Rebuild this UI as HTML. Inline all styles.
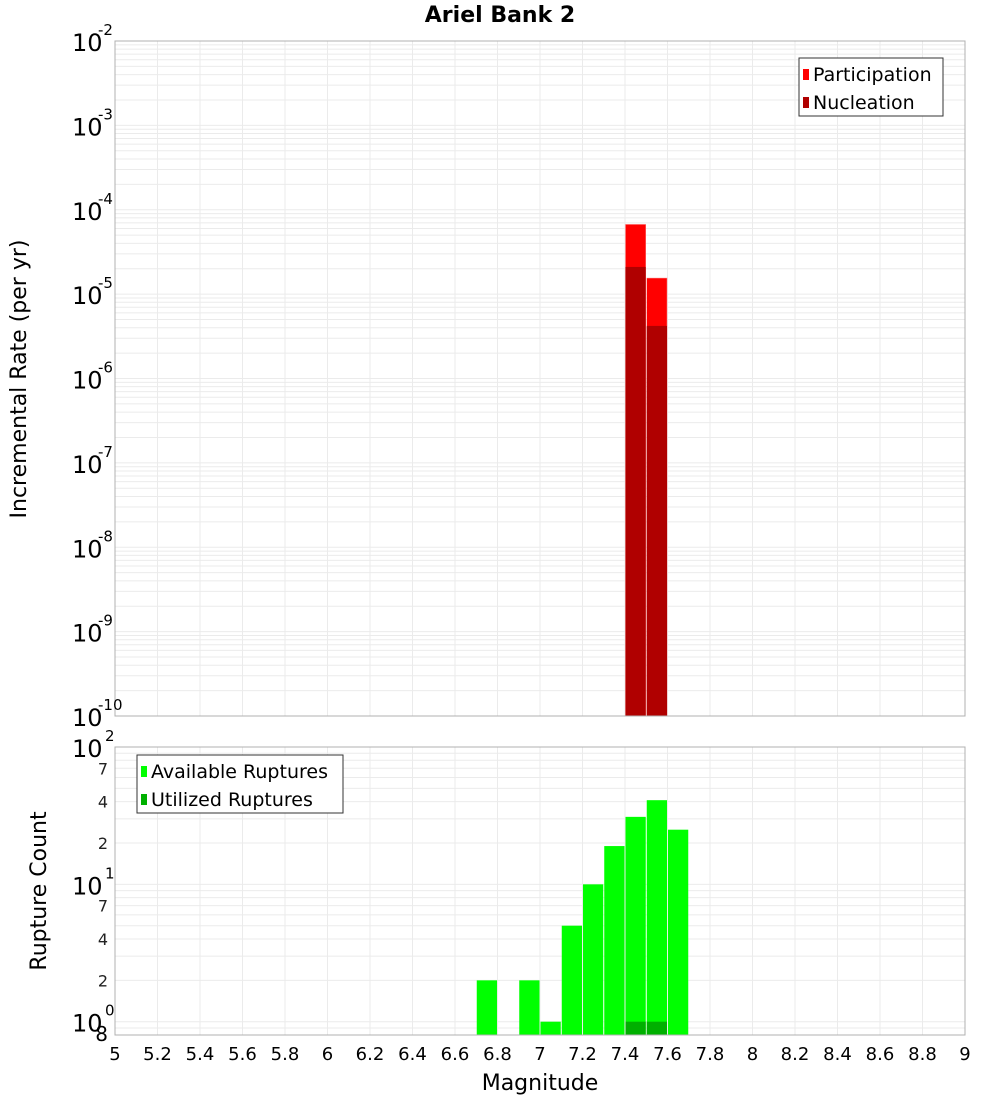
<!DOCTYPE html>
<html><head><meta charset="utf-8"><style>
body{margin:0;background:#fff;}
svg text{font-family:"DejaVu Sans","Liberation Sans",sans-serif;}
</style></head><body>
<svg id="chart" width="1000" height="1100" xmlns="http://www.w3.org/2000/svg"></svg>
<script>
const mags = [7.45, 7.55];
const participation = [6.7e-5, 1.55e-5];
const nucleation = [2.1e-5, 4.2e-6];
const countMags = [6.75, 6.95, 7.05, 7.15, 7.25, 7.35, 7.45, 7.55, 7.65];
const available = [2, 2, 1, 5, 10, 19, 31, 41, 25];
const utilMags = [7.45, 7.55];
const utilized = [1, 1];
const xTicks = [5,5.2,5.4,5.6,5.8,6,6.2,6.4,6.6,6.8,7,7.2,7.4,7.6,7.8,8,8.2,8.4,8.6,8.8,9];
const topExps = [-2,-3,-4,-5,-6,-7,-8,-9,-10];
const botMinorLabels = [2,4,7];

const svg = document.getElementById('chart');
const NS = 'http://www.w3.org/2000/svg';
function mk(tag, attrs, parent){const e=document.createElementNS(NS,tag);for(const k in attrs)e.setAttribute(k,attrs[k]);(parent||svg).appendChild(e);return e;}
const L=115,R=965,T1=41,B1=716,T2=747,B2=1035;
const x = m => L + (m-5)/4*(R-L);
const y1 = v => B1 - (Math.log10(v)+10)/8*(B1-T1);
const lmin = Math.log10(0.8), lmax = 2;
const y2 = v => B2 - (Math.log10(v)-lmin)/(lmax-lmin)*(B2-T2);

// backgrounds
let e;
e=mk('rect',{x:L,y:T1,width:R-L,height:B1-T1,fill:'#fff'});

e=mk('rect',{x:L,y:T2,width:R-L,height:B2-T2,fill:'#fff'});


// grids
const g=mk('g',{stroke:'#ebebeb','stroke-width':1});

xTicks.forEach(t=>{const xx=x(t);mk('line',{x1:xx,x2:xx,y1:T1,y2:B1},g);mk('line',{x1:xx,x2:xx,y1:T2,y2:B2},g);});
for(let d=-10;d<-2;d++)for(let k=1;k<10;k++){const yy=y1(k*Math.pow(10,d));mk('line',{x1:L,x2:R,y1:yy,y2:yy},g);}
for(let d=-1;d<2;d++)for(let k=1;k<10;k++){const v=k*Math.pow(10,d);if(v<0.8)continue;const yy=y2(v);mk('line',{x1:L,x2:R,y1:yy,y2:yy},g);}

// top bars
const bw=(R-L)/40;
mags.forEach((m,i)=>{
 e=mk('rect',{x:x(m)-bw/2+0.5,y:y1(participation[i]),width:bw-1,height:B1-y1(participation[i]),fill:'#ff0000',stroke:'#ff8080','stroke-width':0.5});
 
 e=mk('rect',{x:x(m)-bw/2+0.5,y:y1(nucleation[i]),width:bw-1,height:B1-y1(nucleation[i]),fill:'#b00000'});
 
});
// bottom bars
countMags.forEach((m,i)=>{
 e=mk('rect',{x:x(m)-bw/2+0.5,y:y2(available[i]),width:bw-1,height:B2-y2(available[i]),fill:'#00ff00'});
 
});
utilMags.forEach((m,i)=>{
 e=mk('rect',{x:x(m)-bw/2+0.5,y:y2(utilized[i]),width:bw-1,height:B2-y2(utilized[i]),fill:'#00b000'});
 
});

// frames
e=mk('rect',{x:L,y:T1,width:R-L,height:B1-T1,fill:'none',stroke:'#b0b0b0'});

e=mk('rect',{x:L,y:T2,width:R-L,height:B2-T2,fill:'none',stroke:'#b0b0b0'});


// top y labels
topExps.forEach(p=>{
 const yy=y1(Math.pow(10,p));
 e=mk('text',{x:72,y:yy+10,'font-size':24,fill:'#000'});e.textContent='10';
 
 const s=mk('text',{x:98,y:yy-6,'font-size':15,fill:'#000'});s.textContent=String(p);
});
// bottom y labels
[0,1,2].forEach(p=>{
 const yy=y2(Math.pow(10,p));
 e=mk('text',{x:72,y:yy+10,'font-size':24,fill:'#000'});e.textContent='10';
 
 const s=mk('text',{x:105,y:yy-6,'font-size':15,fill:'#000'});s.textContent=String(p);
});
[1,10].forEach(base=>botMinorLabels.forEach(k=>{
 const yy=y2(k*base);
 e=mk('text',{x:108,y:yy+6,'font-size':16,fill:'#222','text-anchor':'end'});e.textContent=String(k);
 
}));
e=mk('text',{x:108,y:1041,'font-size':20,fill:'#000','text-anchor':'end'});e.textContent='8';


// x labels
xTicks.forEach(t=>{
 e=mk('text',{x:x(t),y:1060,'font-size':18,fill:'#000','text-anchor':'middle'});
 e.textContent=String(Math.round(t*10)/10);
 
});
e=mk('text',{x:540,y:1090,'font-size':22,fill:'#000','text-anchor':'middle'});e.textContent='Magnitude';

e=mk('text',{x:0,y:0,'font-size':22,fill:'#000','text-anchor':'middle',transform:'translate(26,379) rotate(-90)'});e.textContent='Incremental Rate (per yr)';

e=mk('text',{x:0,y:0,'font-size':22,fill:'#000','text-anchor':'middle',transform:'translate(46,891) rotate(-90)'});e.textContent='Rupture Count';

e=mk('text',{x:500,y:22,'font-size':22,'font-weight':'bold',fill:'#000','text-anchor':'middle'});e.textContent='Ariel Bank 2';


// legends
function legend(x0,y0,w,items,name){
 const lg=mk('g',{});
 mk('rect',{x:x0,y:y0,width:w,height:58,fill:'#fff',stroke:'#333'},lg);
 items.forEach((it,i)=>{
  const r=mk('rect',{x:x0+4,y:y0+11+i*28,width:6,height:11,fill:it[1]},lg);
  
  const t=mk('text',{x:x0+14,y:y0+23+i*28,'font-size':19,fill:'#000'},lg);t.textContent=it[0];
  
 });
}
legend(799,58,144,[['Participation','#ff0000'],['Nucleation','#b00000']],'top-legend');
legend(137,755,206,[['Available Ruptures','#00ff00'],['Utilized Ruptures','#00b000']],'bottom-legend');
</script>
</body></html>
